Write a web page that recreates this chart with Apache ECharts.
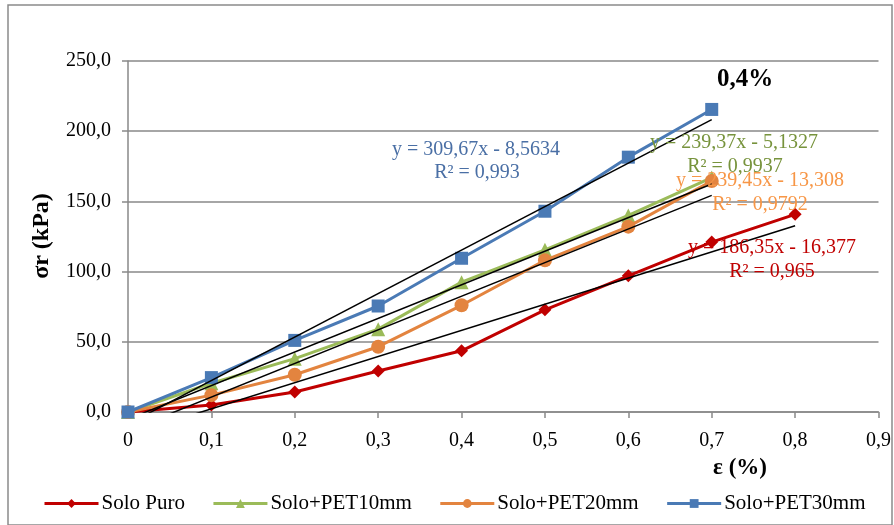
<!DOCTYPE html>
<html><head><meta charset="utf-8">
<script src="https://cdn.jsdelivr.net/npm/echarts@6/dist/echarts.min.js"></script>
<style>html,body{margin:0;padding:0;background:#fff}#c{width:894px;height:525px}</style>
</head><body><div id="c"></div>
<script>
var strain = [0, 0.1, 0.2, 0.3, 0.4, 0.5, 0.6, 0.7, 0.8];
var seriesNames = ['Solo Puro', 'Solo+PET10mm', 'Solo+PET20mm', 'Solo+PET30mm'];
var soloPuro = [0, 5.0, 14.3, 29.2, 43.6, 72.8, 97.0, 121.0, 140.8];
var pet10 = [0, 20.5, 38.0, 59.0, 92.5, 115.5, 140.0, 167.0];
var pet20 = [0, 12.0, 26.5, 46.5, 76.0, 108.0, 132.0, 164.5];
var pet30 = [0, 24.5, 51.0, 75.5, 109.5, 143.0, 181.5, 215.5];
var slopes = [186.35, 239.37, 239.45, 309.67];
var intercepts = [-16.377, -5.1327, -13.308, -8.5634];
var r2 = ['0,965', '0,9937', '0,9792', '0,993'];
var trendEnd = [0.8, 0.7, 0.7, 0.7];
var yTicks = [0, 50, 100, 150, 200, 250];
var xTicks = [0, 0.1, 0.2, 0.3, 0.4, 0.5, 0.6, 0.7, 0.8, 0.9];

var colors = ['#c00000', '#9bbb59', '#e3843f', '#4a7ab5'];
var eqColors = ['#c00000', '#77933c', '#f79646', '#4a6fa5'];
var symbols = ['diamond', 'triangle', 'circle', 'rect'];
var symSizes = [13, 14, 14, 13];
var values = [soloPuro, pet10, pet20, pet30];
var FONT = '"Liberation Serif", "Times New Roman", serif';

function fmt(v, d) { return v.toFixed(d).replace('.', ','); }

var series = [];
values.forEach(function (vals, i) {
  series.push({
    name: seriesNames[i], type: 'line', data: vals.map(function (v, k) { return [strain[k], v]; }),
    symbol: symbols[i], symbolSize: symSizes[i], showSymbol: true,
    lineStyle: { color: colors[i], width: 3 }, itemStyle: { color: colors[i] },
    z: 3 + i, clip: true
  });
});
slopes.forEach(function (a, i) {
  var b = intercepts[i];
  series.push({
    name: 'trend' + i, type: 'line', silent: true, symbol: 'none', clip: true,
    data: [[0, b], [trendEnd[i], a * trendEnd[i] + b]],
    lineStyle: { color: '#000', width: 1.5 }, z: 10
  });
});

var eqPos = [[772, 248, 772, 272], [734, 143, 735, 167], [760, 181, 760, 205], [476, 150, 477, 173]];
var graphics = [
  { type: 'rect', shape: { x: 8, y: 5, width: 884, height: 520 }, style: { fill: 'none', stroke: '#8a8a8a', lineWidth: 1.5 }, z: -1 },
  { type: 'text', x: 745, y: 80, style: { text: '0,4%', font: 'bold 25px ' + FONT, fill: '#000', textAlign: 'center', textVerticalAlign: 'middle' } },
  { type: 'text', x: 740, y: 468, style: { text: 'ε (%)', font: 'bold 23px ' + FONT, fill: '#000', textAlign: 'center', textVerticalAlign: 'middle' } },
  { type: 'text', x: 42, y: 236, rotation: Math.PI / 2, style: { text: 'σr (kPa)', font: 'bold 24px ' + FONT, fill: '#000', textAlign: 'center', textVerticalAlign: 'middle' } }
];
slopes.forEach(function (a, i) {
  var p = eqPos[i];
  var bAbs = Math.abs(intercepts[i]);
  var bStr = String(bAbs).replace('.', ',');
  graphics.push({ type: 'text', x: p[0], y: p[1], z: 20, style: { text: 'y = ' + String(a).replace('.', ',') + 'x - ' + bStr, font: '20px ' + FONT, fill: eqColors[i], textAlign: 'center', textVerticalAlign: 'middle' } });
  graphics.push({ type: 'text', x: p[2], y: p[3], z: 20, style: { text: 'R² = ' + r2[i], font: '20px ' + FONT, fill: eqColors[i], textAlign: 'center', textVerticalAlign: 'middle' } });
});

var chart = echarts.init(document.getElementById('c'));
chart.setOption({
  animation: false,
  backgroundColor: '#fff',
  grid: { left: 128, right: 14, top: 61, bottom: 113, containLabel: false },
  xAxis: {
    type: 'value', min: 0, max: 0.9, interval: 0.1,
    axisLine: { show: true, lineStyle: { color: '#898989', width: 1.5 } },
    axisTick: { show: true, length: 6, lineStyle: { color: '#898989', width: 1.5 } },
    splitLine: { show: false },
    axisLabel: { margin: 19, color: '#000', fontFamily: FONT, fontSize: 20, formatter: function (v) { return v === 0 ? '0' : fmt(v, 1); } }
  },
  yAxis: {
    type: 'value', min: 0, max: 250, interval: 50,
    axisLine: { show: true, lineStyle: { color: '#898989', width: 1.5 } },
    axisTick: { show: true, length: 6, lineStyle: { color: '#898989', width: 1.5 } },
    splitLine: { show: true, lineStyle: { color: '#898989', width: 1.5 } },
    axisLabel: { margin: 17, color: '#000', fontFamily: FONT, fontSize: 20, formatter: function (v) { return fmt(v, 1); } }
  },
  legend: {
    data: seriesNames, left: 38, top: 488, itemWidth: 54, itemHeight: 11, itemGap: 27,
    lineStyle: { width: 3 },
    textStyle: { fontFamily: FONT, fontSize: 21, color: '#000', padding: [0, 0, 0, -2] }
  },
  series: series,
  graphic: graphics
});
</script>
</body></html>
